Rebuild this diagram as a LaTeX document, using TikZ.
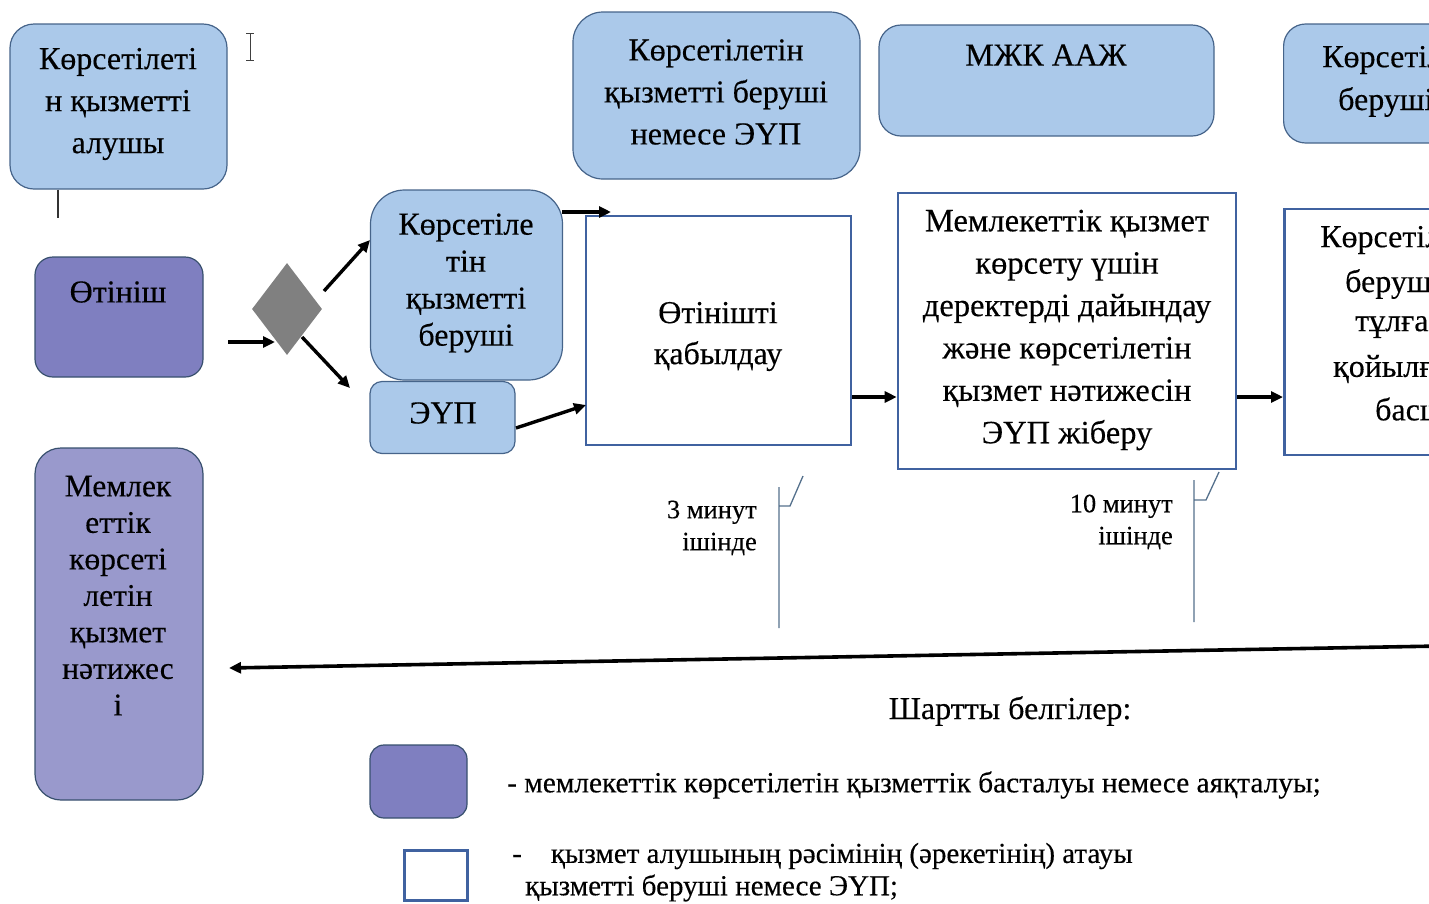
\documentclass[tikz,border=0pt]{standalone}
\usepackage{fontspec}
\setmainfont{Liberation Serif}[FakeBold=0.3]
\usetikzlibrary{arrows.meta,shapes.geometric}

\definecolor{lblue}{RGB}{171,201,234}
\definecolor{edgeblue}{RGB}{70,100,138}
\definecolor{startpurple}{RGB}{127,127,192}
\definecolor{endpurple}{RGB}{153,153,204}
\definecolor{stepblue}{RGB}{64,98,160}
\definecolor{calloutline}{RGB}{84,112,140}
\definecolor{diagray}{RGB}{128,128,128}

\newcommand\txtsize[2]{\fontsize{#1}{#2}\selectfont}

\begin{document}
\begin{tikzpicture}[x=1pt,y=-1pt,
  rolebox/.style={draw=edgeblue, line width=1.2pt, fill=lblue, rounded corners=24pt, inner sep=0pt},
  startbox/.style={draw=edgeblue!80!black, line width=1.2pt, fill=startpurple, rounded corners=18pt, inner sep=0pt},
  endbox/.style={draw=edgeblue!80!black, line width=1.2pt, fill=endpurple, rounded corners=26pt, inner sep=0pt},
  stepbox/.style={draw=stepblue, line width=2.6pt, fill=white, inner sep=0pt},
  label/.style={inner sep=0pt, align=center, text=black},
  flow/.style={draw=black, line width=3.4pt, -{Triangle[length=12pt,width=11pt]}},
  callout/.style={draw=calloutline, line width=1.3pt},
]
\useasboundingbox (0,0) rectangle (1429,903);
\clip (0,0) rectangle (1429,903);

% ---- swimlane headers ----
\node[rolebox, minimum width=217pt, minimum height=165pt] (recv) at (118.5,106.5) {};
\node[label, font=\txtsize{32}{42}] (recvT) at (118,104) {Көрсетілеті\\н қызметті\\алушы};

\node[rolebox, rounded corners=30pt, minimum width=287pt, minimum height=167pt] (prov) at (716.5,95.5) {};
\node[label, font=\txtsize{32}{42}] (provT) at (716,92) {Көрсетілетін\\қызметті беруші\\немесе ЭҮП};

\node[rolebox, rounded corners=22pt, minimum width=335pt, minimum height=111pt] (mzhk) at (1046.5,80.5) {};
\node[label, font=\txtsize{32}{40}] (mzhkT) at (1046,55) {МЖК ААЖ};

\node[rolebox, rounded corners=22pt, minimum width=300pt, minimum height=119pt, anchor=west] (prov2) at (1283,83.5) {};
\node[label, anchor=west, font=\txtsize{32}{40}] (prov2a) at (1322,60) {Көрсетілетін};
\node[label, anchor=west, font=\txtsize{32}{40}] (prov2b) at (1338,102) {берушінің};

% ---- text cursor mark ----
\draw[black!75, line width=1pt] (250,33) -- (250,60)
  (246,33) -- (254,33) (246,60) -- (254,60);

% lane separator under the service receiver header
\coordinate (recvTick) at (58,218);
\draw[black!80, line width=1.3pt] (recv.south -| recvTick) -- (recvTick);

% ---- start / end events ----
\node[startbox, minimum width=168pt, minimum height=120pt] (app) at (119,317) {};
\node[label, font=\txtsize{32}{42}] (appT) at (118,292) {Өтініш};

\node[endbox, minimum width=168pt, minimum height=352pt] (res) at (119,624) {};
\node[label, font=\txtsize{31.5}{36.5}] (resT) at (118,595.5) {Мемлек\\еттік\\көрсеті\\летін\\қызмет\\нәтижес\\і};

% ---- gateway ----
\node[diamond, fill=diagray, inner sep=0pt, minimum width=70pt, minimum height=92pt] (gw) at (287,309) {};

% ---- channel boxes ----
\node[rolebox, rounded corners=34pt, minimum width=192pt, minimum height=190pt] (pv) at (466.5,285) {};
\node[label, font=\txtsize{32}{37}] (pvT) at (466,283) {Көрсетіле\\тін\\қызметті\\беруші};

\node[rolebox, rounded corners=12pt, minimum width=145pt, minimum height=72pt] (eup) at (442.5,417.5) {};
\node[label, font=\txtsize{32}{40}] (eupT) at (443,413) {ЭҮП};

% ---- process steps ----
\node[stepbox, minimum width=265pt, minimum height=229pt] (accept) at (718.5,330.5) {};
\node[label, font=\txtsize{32}{41}] (acceptT) at (718,336.5) {Өтінішті\\қабылдау};

\node[stepbox, minimum width=338pt, minimum height=276pt] (prep) at (1067,331) {};
\node[label, font=\txtsize{32.5}{42.4}] (prepT) at (1067,330) {Мемлекеттік қызмет\\көрсету үшін\\деректерді дайындау\\және көрсетілетін\\қызмет нәтижесін\\ЭҮП жіберу};

\node[stepbox, minimum width=300pt, minimum height=246pt, anchor=west] (sign) at (1283,332) {};
\node[label, anchor=west, font=\txtsize{32}{40}] (signA) at (1320,240) {Көрсетілетін};
\node[label, anchor=west, font=\txtsize{32}{40}] (signB) at (1345,284) {берушінің};
\node[label, anchor=west, font=\txtsize{32}{40}] (signC) at (1355,327) {тұлғасы};
\node[label, anchor=west, font=\txtsize{32}{40}] (signD) at (1333,369) {қойылған};
\node[label, anchor=west, font=\txtsize{32}{40}] (signE) at (1375,409) {басшысы};

% ---- flow connectors ----
\coordinate (inStart) at (228,342);
\coordinate (inEnd) at (275,342);
\draw[flow] (inStart) -- (inEnd);
\coordinate (upStart) at (324,291);
\coordinate (upEnd) at (370,240);
\draw[flow] (upStart) -- (upEnd);
\coordinate (downStart) at (302,337);
\coordinate (downEnd) at (350,388);
\draw[flow] (downStart) -- (downEnd);

\coordinate (pvOut) at (562,212);
\coordinate (pvIn) at (611,212);
\draw[flow] (pvOut) -- (pvIn);
\coordinate (eupOut) at (516,428);
\coordinate (eupIn) at (586,405);
\draw[flow] (eupOut) -- (eupIn);

\draw[flow] (accept.east |- 0,397) -- (prep.west |- 0,397);
\draw[flow] (prep.east |- 0,397) -- (sign.west |- 0,397);

% return of the result
\coordinate (retStart) at (1440,646);
\coordinate (retEnd) at (229,668);
\draw[flow, line width=3.6pt] (retStart) -- (retEnd);

% ---- time callouts ----
\node[label, align=right, anchor=east, font=\txtsize{26.5}{32}] (t1) at (757,528) {3 минут\\ішінде};
\draw[callout] (779,628) -- (779,487) (779,506) -- (790,506) -- (803,476);
\node[label, align=right, anchor=east, font=\txtsize{26.5}{32}] (t2) at (1173,522) {10 минут\\ішінде};
\draw[callout] (1194,622) -- (1194,480) (1194,500) -- (1206,500) -- (1219,472);

% ---- legend ----
\node[label, font=\txtsize{32}{34}] (legT) at (1010,711) {Шартты белгілер:};
\node[startbox, rounded corners=14pt, minimum width=97pt, minimum height=73pt] (legStart) at (418.5,781.5) {};
\node[label, anchor=west, font=\txtsize{29.3}{32}] (legStartT) at (507,785) {- мемлекеттік көрсетілетін қызметтік басталуы немесе аяқталуы;};
\node[stepbox, line width=3pt, minimum width=63pt, minimum height=50pt] (legStep) at (435.5,875) {};
\node[label, anchor=west, font=\txtsize{29}{32}] (legStepT1) at (512,856) {-\quad қызмет алушының рәсімінің (әрекетінің) атауы};
\node[label, anchor=west, font=\txtsize{29}{32}] (legStepT2) at (525,888) {қызметті беруші немесе ЭҮП;};
\end{tikzpicture}
\end{document}
